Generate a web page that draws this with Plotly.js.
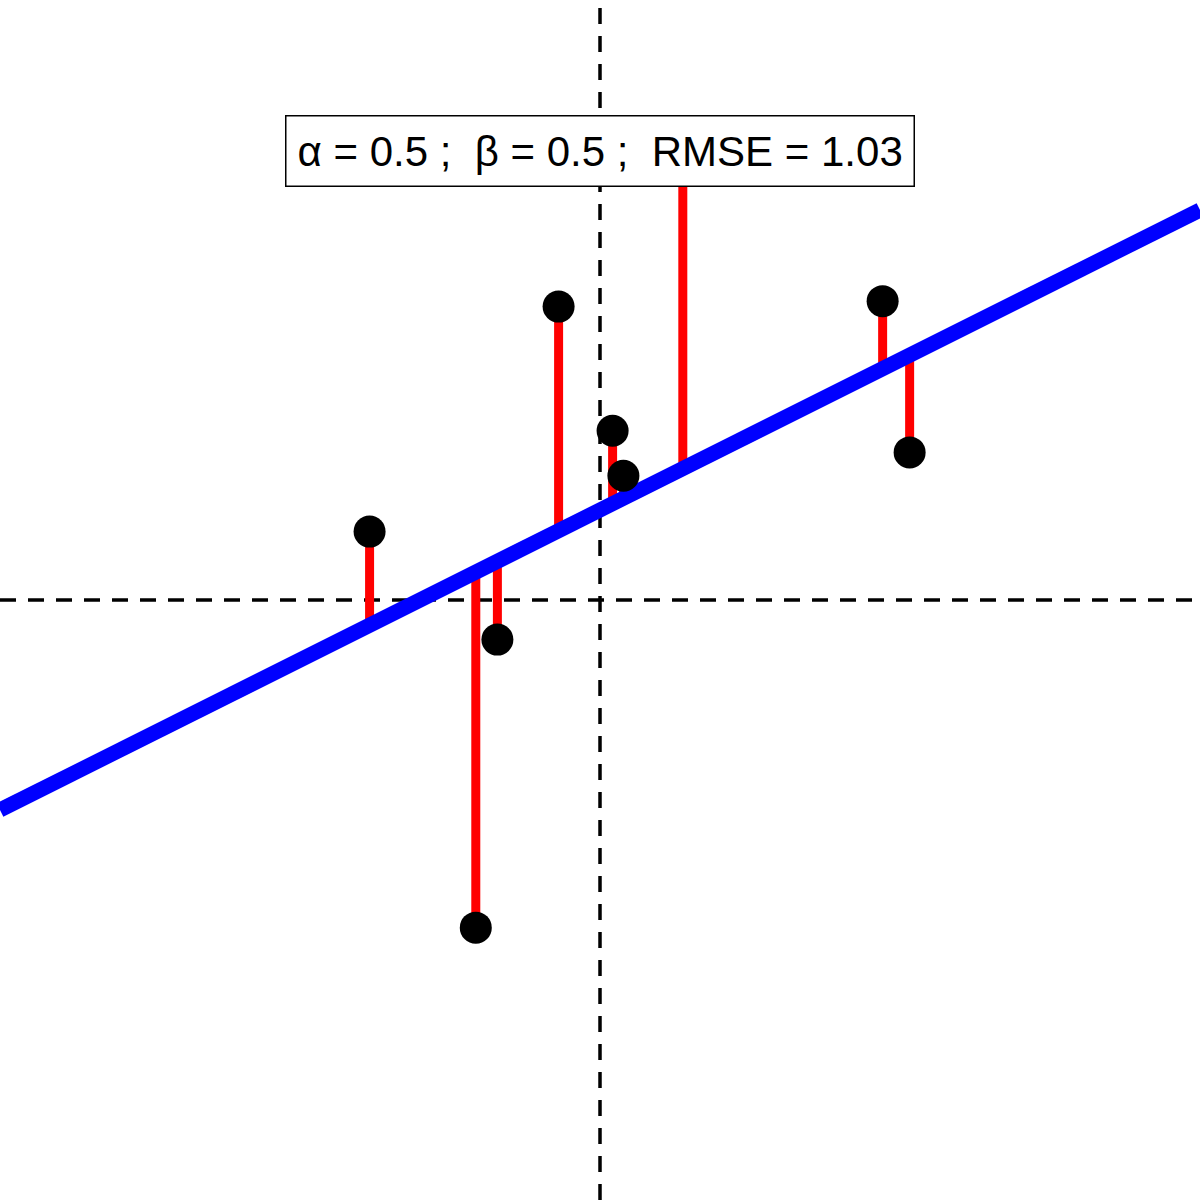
<!DOCTYPE html>
<html>
<head>
<script src="https://cdn.plot.ly/plotly-3.0.1.min.js"></script>
<style>body{margin:0}</style>
</head>
<body>
<div id="myDiv" style="width:1200px;height:1200px"></div>
<script>
var alpha = 0.5;
var beta = 0.5;
var xs = [-1.28, -0.69, -0.57, -0.23, 0.07, 0.13, 0.46, 1.57, 1.72];
var ys = [0.38, -1.82, -0.22, 1.63, 0.94, 0.69, 2.56, 1.66, 0.82];
var lim = [-3.333, 3.333];

// residual segments, point to fitted value
var rx = [], ry = [];
for (var i = 0; i < xs.length; i++) {
  rx.push(xs[i], xs[i], null);
  ry.push(ys[i], alpha + beta * xs[i], null);
}

var data = [
  {x: [0, 0], y: lim, mode: 'lines', line: {color: 'black', width: 3.5, dash: '16px,12px'}},
  {x: lim, y: [0, 0], mode: 'lines', line: {color: 'black', width: 3.5, dash: '16px,12px'}},
  {x: rx, y: ry, mode: 'lines', line: {color: 'red', width: 9}},
  {x: lim, y: [alpha + beta * lim[0], alpha + beta * lim[1]], mode: 'lines',
   line: {color: 'blue', width: 15}},
  {x: xs, y: ys, mode: 'markers', marker: {color: 'black', size: 32}}
];

var layout = {
  showlegend: false,
  margin: {l: 0, r: 0, t: 0, b: 0},
  paper_bgcolor: 'white',
  plot_bgcolor: 'white',
  xaxis: {range: lim, visible: false},
  yaxis: {range: lim, visible: false},
  annotations: [{
    xref: 'paper', yref: 'paper', x: 0.5, y: 0.904,
    text: 'α = 0.5 ;  β = 0.5 ;  RMSE = 1.03',
    showarrow: false,
    font: {family: 'Liberation Sans, Arial', size: 42, color: 'black'},
    bgcolor: 'white', bordercolor: 'black', borderwidth: 1.5, borderpad: 11
  }]
};

Plotly.newPlot('myDiv', data, layout, {staticPlot: true});
</script>
</body>
</html>
